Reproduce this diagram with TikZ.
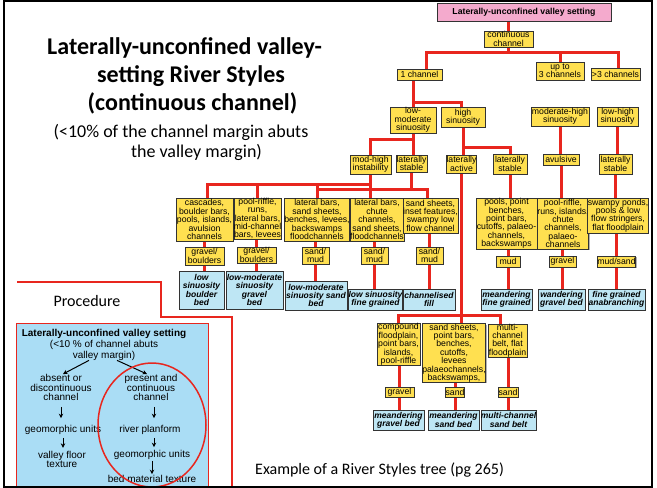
\documentclass[tikz,border=0pt]{standalone}
\usepackage{fontspec}
\newfontfamily\arialf{Liberation Sans}
\newfontfamily\calib{Carlito}
\usetikzlibrary{arrows.meta,backgrounds,shadows}
\definecolor{lred}{RGB}{232,38,30}
\definecolor{ylw}{RGB}{255,224,80}
\definecolor{blu}{RGB}{190,230,244}
\definecolor{pblu}{RGB}{170,221,245}
\definecolor{pnk}{RGB}{244,170,205}
\begin{document}
\begin{tikzpicture}[x=1pt,y=-1pt,
 box/.style={draw=black!80, line width=0.6pt, inner sep=0pt, align=center, drop shadow={shadow xshift=0.9pt, shadow yshift=-0.9pt, fill=black!60}},
 yb/.style={box, fill=ylw, font=\arialf\fontsize{8.7}{8.4}\selectfont},
 bb/.style={box, fill=blu, font=\arialf\bfseries\itshape\fontsize{8.5}{8.4}\selectfont},
 wh/.style 2 args={minimum width=#1pt, minimum height=#2pt},
 rl/.style={draw=lred, line width=3pt},
 ptxt/.style={inner sep=0pt, align=center, font=\arialf\fontsize{10}{9.6}\selectfont},
 parr/.style={-{Stealth[length=4.5pt,width=4.5pt]}, line width=1pt, black},
 ttl/.style={inner sep=0pt, anchor=base, font=\calib\bfseries\fontsize{24}{27}\selectfont},
 sub/.style={inner sep=0pt, anchor=base, font=\calib\fontsize{18}{20}\selectfont},
]
\useasboundingbox (0,0) rectangle (657,488);

% ---------- title ----------
\node[ttl] (t1) at (184.5,54.5) {Laterally-unconfined valley-};
\node[ttl] (t2) at (191,82.7) {setting River Styles};
\node[ttl] (t3) at (192.5,110.7) {(continuous channel)};
\node[sub] (s1) at (181,137.3) {(<10\% of the channel margin abuts};
\node[sub] (s2) at (196.5,157.7) {the valley margin)};

% ---------- tree: top ----------
\node[box, fill=pnk, wh={174}{18}, font=\arialf\bfseries\fontsize{8.7}{9}\selectfont] (pink) at (524,12) {Laterally-unconfined valley setting};
\node[yb, wh={49}{16}] (cont) at (508.5,39) {continuous\\channel};
\node[yb, wh={45}{11}] (onech) at (419.5,74.5) {1 channel};
\node[yb, wh={48}{18}] (up3) at (560,71) {up to\\3 channels};
\node[yb, wh={49}{12}] (gt3) at (615.5,74) {>3 channels};
\node[yb, wh={46}{26}] (lowmod) at (413,120) {low-\\moderate\\sinuosity};
\node[yb, wh={44}{20}] (highs) at (463,117) {high\\sinuosity};
\node[yb, wh={58}{19}] (modhigh) at (560,116.5) {moderate-high\\sinuosity};
\node[yb, wh={41}{19}] (lowhigh) at (617.5,116.5) {low-high\\sinuosity};
\node[yb, wh={41}{19}] (modinst) at (370.5,164.5) {mod-high\\instability};
\node[yb, wh={31}{17}] (lstabA) at (411.5,163.5) {laterally\\stable};
\node[yb, wh={27}{18}] (lact) at (461.5,164) {laterally\\active};
\node[yb, wh={34}{20}] (lstabB) at (510,164) {laterally\\stable};
\node[yb, wh={36}{11}] (avul) at (561,159.5) {avulsive};
\node[yb, wh={33}{20}] (lstabC) at (615.5,164) {laterally\\stable};

% ---------- geomorphic units ----------
\node[yb, wh={57}{43}] (casc) at (204.5,219.5) {cascades,\\boulder bars,\\pools, islands,\\avulsion\\channels};
\node[yb, wh={47}{41}] (poolr) at (257.5,218.5) {pool-riffle,\\runs,\\lateral bars,\\mid-channel\\bars, levees};
\node[yb, wh={62}{43}] (latA) at (317,219.5) {lateral bars,\\sand sheets,\\benches, levees,\\backswamps\\floodchannels};
\node[yb, wh={52}{43}] (latB) at (377,219.5) {lateral bars,\\chute\\channels,\\sand sheets,\\floodchannels};
\node[yb, wh={53}{35}] (sandsh) at (430.5,215.5) {sand sheets,\\inset features,\\swampy low\\flow channel};
\node[yb, wh={61}{51}] (pools) at (506.5,223.5) {pools, point\\benches,\\point bars,\\cutoffs, palaeo-\\channels,\\backswamps};
\node[yb, wh={50}{51}] (poolrB) at (563,223.5) {pool-riffle,\\runs, islands,\\chute\\channels,\\palaeo-\\channels};
\node[yb, wh={60}{35}] (swampy) at (618,215.5) {swampy ponds,\\pools \& low\\flow stringers,\\flat floodplain};

% ---------- bed material ----------
\node[yb, wh={39}{18}] (gb1) at (204.5,256) {gravel/\\boulders};
\node[yb, wh={39}{16}] (gb2) at (256.5,255) {gravel/\\boulders};
\node[yb, wh={27}{17}] (sm1) at (315.5,255.5) {sand/\\mud};
\node[yb, wh={27}{17}] (sm2) at (374.5,255.5) {sand/\\mud};
\node[yb, wh={27}{17}] (sm3) at (429.5,255.5) {sand/\\mud};
\node[yb, wh={24}{11}] (mud) at (508,261.5) {mud};
\node[yb, wh={27}{11}] (grav) at (562.5,261.5) {gravel};
\node[yb, wh={37}{11}] (mudsand) at (616.5,261.5) {mud/sand};

% ---------- river styles ----------
\node[bb, wh={45}{38}] (b1) at (201.5,290) {low\\sinuosity\\boulder\\bed};
\node[bb, wh={57}{38}] (b2) at (254.5,290) {low-moderate\\sinuosity\\gravel\\bed};
\node[bb, wh={62}{29}] (b3) at (316,295.5) {low-moderate\\sinuosity sand\\bed};
\node[bb, wh={53}{21}] (b4) at (375.5,299.5) {low sinuosity\\fine grained};
\node[bb, wh={52}{21}] (b5) at (429,299.5) {channelised\\fill};
\node[bb, wh={51}{21}] (b6) at (506.5,299.5) {meandering\\fine grained};
\node[bb, wh={47}{21}] (b7) at (561.5,299.5) {wandering\\gravel bed};
\node[bb, wh={57}{21}] (b8) at (616.5,299.5) {fine grained\\anabranching};

% ---------- lower branch ----------
\node[yb, wh={43}{41}] (comp) at (398.5,344.5) {compound\\floodplain,\\point bars,\\islands,\\pool-riffle};
\node[yb, wh={62}{58}] (sandsh2) at (454,353) {sand sheets,\\point bars,\\benches,\\cutoffs,\\levees\\palaeochannels,\\backswamps,};
\node[yb, wh={39}{33}] (multi) at (507.5,340.5) {multi-\\channel\\belt, flat\\floodplain};
\node[yb, wh={29}{10}] (grav2) at (399.5,392) {gravel};
\node[yb, wh={18}{10}] (sand2) at (455,392) {sand};
\node[yb, wh={20}{10}] (sand3) at (508,392) {sand};
\node[bb, wh={51}{20}] (b9) at (398.5,420) {meandering\\gravel bed};
\node[bb, wh={51}{20}] (b10) at (453.5,420) {meandering\\sand bed};
\node[bb, wh={53}{20}] (b11) at (508.5,420) {multi-channel\\sand belt};

% ---------- connectors ----------
\begin{scope}[on background layer]
\coordinate (busA) at (0,52);
\coordinate (busB) at (0,102);
\coordinate (busC) at (0,139);
\coordinate (busD) at (0,147);
\coordinate (busE) at (0,184);
\coordinate (busF) at (0,189);
\coordinate (busG) at (0,315);
\draw[rl] (cont.north) -- (cont.north|-pink.south);
\draw[rl] (cont.south) -- (cont.south|-busA);
\draw[rl] ([xshift=7pt]onech.north) -- ([xshift=7pt]onech.north|-busA) -- ([xshift=2.5pt]gt3.north|-busA) -- ([xshift=2.5pt]gt3.north);
\draw[rl] (up3.north) -- (up3.north|-busA);
\draw[rl] (lowmod.north) -- (lowmod.north|-onech.south);
\draw[rl] (lowmod.north|-busB) -- ([xshift=-2pt]highs.north|-busB) -- ([xshift=-2pt]highs.north);
\draw[rl] (lowmod.south) -- (lowmod.south|-lstabA.north);
\draw[rl] (modinst.north) -- (modinst.north|-busC) -- (lowmod.south|-busC);
\draw[rl] (highs.south) -- (highs.south|-lact.north);
\draw[rl] (highs.south|-busD) -- (lstabB.north|-busD) -- (lstabB.north);
\draw[rl] (modhigh.south) -- (modhigh.south|-avul.north);
\draw[rl] (lowhigh.south) -- (lowhigh.south|-lstabC.north);
\draw[rl] (modinst.south) -- (modinst.south|-latB.north);
\draw[rl] ([xshift=2.5pt]casc.north) -- ([xshift=2.5pt]casc.north|-busE) -- (modinst.south|-busE);
\draw[rl] (poolr.north) -- (poolr.north|-busE);
\draw[rl] (latA.north) -- (latA.north|-busE);
\draw[rl] (lstabA.south) -- (lstabA.south|-busF);
\draw[rl] (latA.north|-busF) -- ([xshift=-3.5pt]sandsh.north|-busF) -- ([xshift=-3.5pt]sandsh.north);
\draw[rl] (lstabB.south) -- (lstabB.south|-pools.north);
\draw[rl] (avul.south) -- (avul.south|-poolrB.north);
\draw[rl] (lstabC.south) -- (lstabC.south|-swampy.north);
\draw[rl] (lact.south) -- (lact.south|-sandsh2.north);
\draw[rl] (comp.north) -- (comp.north|-busG) -- ([xshift=-7.5pt]multi.north|-busG) -- ([xshift=-7.5pt]multi.north);
\foreach \d/\s/\b in {casc/gb1/b1, poolr/gb2/b2, latA/sm1/b3, latB/sm2/b4, sandsh/sm3/b5, pools/mud/b6, poolrB/grav/b7, swampy/mudsand/b8, comp/grav2/b9, sandsh2/sand2/b10, multi/sand3/b11}{
  \draw[rl] (\s.north) -- (\s.north|-\d.south);
  \draw[rl] (\s.south) -- (\s.south|-\b.north);
}
\end{scope}

% ---------- procedure panel ----------
\draw[lred, line width=2pt] (17,282) -- (161,282) -- (161,317) -- (232,317) -- (232,487);
\node[inner sep=0pt, anchor=base, font=\calib\fontsize{16}{18}\selectfont] (proc) at (87,306.7) {Procedure};
\draw[lred, line width=1pt, fill=pblu] (16,323) rectangle (208,487);
\node[ptxt, font=\arialf\bfseries\fontsize{10}{10}\selectfont] (ph1) at (104,334) {Laterally-unconfined valley setting};
\node[ptxt] (ph2) at (104,345) {(<10 \% of channel abuts};
\node[ptxt] (ph3) at (104,355.5) {valley margin)};
\node[ptxt] (absent) at (61,387.5) {absent or\\discontinuous\\channel};
\node[ptxt] (present) at (151,387.5) {present and\\continuous\\channel};
\node[ptxt] (geoL) at (63,430) {geomorphic units};
\node[ptxt] (vft) at (62,459.5) {valley floor\\texture};
\node[ptxt] (rp) at (150,430) {river planform};
\node[ptxt] (geoR) at (152,455) {geomorphic units};
\node[ptxt] (bmt) at (152,479) {bed material texture};
\draw[parr] ([xshift=-15pt]ph3.south) -- ([xshift=2pt]absent.north);
\draw[parr] ([xshift=13pt]ph3.south) -- ([xshift=-4pt]present.north);
\draw[parr, shorten <=6pt, shorten >=7pt] (absent.south) -- (absent.south|-geoL.north);
\draw[parr, shorten <=3pt, shorten >=3pt] (geoL.south) -- (geoL.south|-vft.north);
\draw[parr, shorten <=6pt, shorten >=7pt] ([xshift=3pt]present.south) -- ([xshift=3pt]present.south|-rp.north);
\draw[parr, shorten <=3pt, shorten >=3pt] ([xshift=4pt]rp.south) -- ([xshift=4pt]rp.south|-geoR.north);
\draw[parr, shorten <=1pt, shorten >=1pt] (geoR.south) -- (geoR.south|-bmt.north);
\draw[lred, line width=1.5pt] (152,425) ellipse [x radius=54pt, y radius=62pt];

% ---------- caption ----------
\node[inner sep=0pt, anchor=base west, font=\calib\fontsize{16}{18}\selectfont] (cap) at (255,474.3) {Example of a River Styles tree (pg 265)};

% ---------- frame ----------
\draw[black, line width=2pt] (4,1) rectangle (652,486.5);
\end{tikzpicture}
\end{document}
